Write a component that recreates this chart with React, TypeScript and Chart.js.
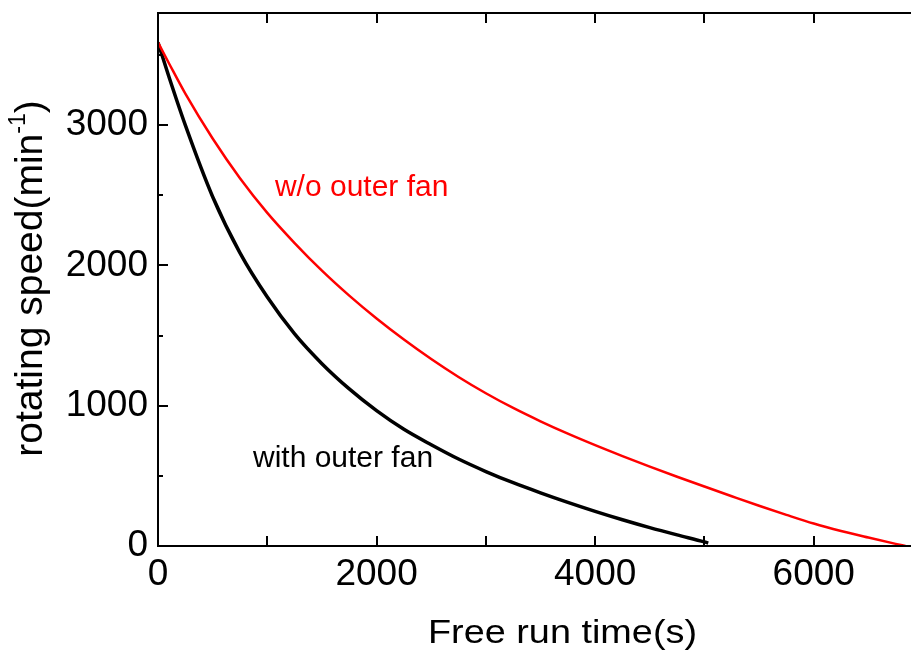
import { useEffect, useRef } from 'react';
import { Chart, registerables } from 'chart.js';

Chart.register(...registerables);

// ---- data ----
const redTime = [0, 100, 250, 500, 750, 1000, 1250, 1500, 1750, 2000, 2250, 2500, 2750, 3000, 3250, 3500, 3750, 4000, 4250, 4500, 4750, 5000, 5250, 5500, 5750, 6000, 6250, 6500, 6750, 6840];
const redSpeed = [3590, 3442, 3225, 2905, 2622, 2375, 2160, 1963, 1785, 1622, 1472, 1333, 1205, 1089, 984, 889, 801, 719, 641, 566, 494, 424, 355, 287, 222, 160, 107, 60, 15, 0];

const blackTime = [0, 100, 250, 500, 750, 1000, 1250, 1500, 1750, 2000, 2250, 2500, 2750, 3000, 3250, 3500, 3750, 4000, 4250, 4500, 4750, 5000, 5035];
const blackSpeed = [3590, 3345, 3000, 2490, 2090, 1775, 1512, 1300, 1120, 965, 832, 722, 620, 531, 451, 379, 311, 247, 187, 131, 79, 29, 21];

const xTickLabels = [0, 2000, 4000, 6000];
const yTickLabels = [0, 1000, 2000, 3000];
const xMinorStep = 1000;
const yMinorStep = 500;

const X_MIN = 0;
const X_MAX = 7000;
const Y_MIN = 0;
const Y_MAX = 3800;

const redLabel = 'w/o outer fan';
const blackLabel = 'with outer fan';
const redLabelPos = [1070, 2493];
const blackLabelPos = [869, 566];

const xTitle = 'Free run time(s)';
const yTitleMain = 'rotating speed(min';
const yTitleSup = '-1';
const yTitleEnd = ')';

const FONT = '"Liberation Sans", Arial, Helvetica, sans-serif';
const RED = '#ff0000';
const BLACK = '#000000';

const framePlugin = {
  id: 'frameAndText',
  afterDatasetsDraw(chart: any) {
    const { ctx, chartArea: a, scales } = chart;
    const xs = scales.x;
    const ys = scales.y;
    ctx.save();
    // frame
    ctx.strokeStyle = BLACK;
    ctx.lineWidth = 2;
    ctx.strokeRect(a.left, a.top, a.right - a.left, a.bottom - a.top);
    // inward ticks
    ctx.beginPath();
    for (let v = X_MIN; v <= X_MAX; v += xMinorStep) {
      const px = Math.round(xs.getPixelForValue(v));
      ctx.moveTo(px, a.bottom);
      ctx.lineTo(px, a.bottom - 10);
      ctx.moveTo(px, a.top);
      ctx.lineTo(px, a.top + 10);
    }
    for (let v = Y_MIN; v <= Y_MAX; v += yMinorStep) {
      const py = Math.round(ys.getPixelForValue(v));
      const len = v % 1000 === 0 ? 10 : 5;
      ctx.moveTo(a.left, py);
      ctx.lineTo(a.left + len, py);
      ctx.moveTo(a.right, py);
      ctx.lineTo(a.right - len - 2, py);
    }
    ctx.stroke();

    // curve labels
    ctx.font = `30px ${FONT}`;
    ctx.textAlign = 'left';
    ctx.textBaseline = 'alphabetic';
    ctx.fillStyle = RED;
    ctx.fillText(redLabel, xs.getPixelForValue(redLabelPos[0]), ys.getPixelForValue(redLabelPos[1]));
    ctx.fillStyle = BLACK;
    ctx.fillText(blackLabel, xs.getPixelForValue(blackLabelPos[0]), ys.getPixelForValue(blackLabelPos[1]));

    // x title (slightly wide lettering as in the reference)
    ctx.font = `33px ${FONT}`;
    const tw = ctx.measureText(xTitle).width;
    const targetW = 269;
    ctx.save();
    ctx.translate(562.5, 642.5);
    ctx.scale(targetW / tw, 1);
    ctx.textAlign = 'center';
    ctx.fillText(xTitle, 0, 0);
    ctx.restore();

    // y title with superscript
    ctx.save();
    ctx.translate(42, 278.5);
    ctx.rotate(-Math.PI / 2);
    ctx.textAlign = 'left';
    ctx.font = `39px ${FONT}`;
    const w1 = ctx.measureText(yTitleMain).width;
    const w3 = ctx.measureText(yTitleEnd).width;
    ctx.font = `23px ${FONT}`;
    const w2 = ctx.measureText(yTitleSup).width;
    const total = w1 + w2 + w3;
    let cx = -total / 2;
    ctx.font = `39px ${FONT}`;
    ctx.fillText(yTitleMain, cx, 0);
    cx += w1;
    ctx.font = `23px ${FONT}`;
    ctx.fillText(yTitleSup, cx, -17);
    cx += w2;
    ctx.font = `39px ${FONT}`;
    ctx.fillText(yTitleEnd, cx, 0);
    ctx.restore();

    ctx.restore();
  },
};

export default function App() {
  const canvasRef = useRef<HTMLCanvasElement | null>(null);

  useEffect(() => {
    const canvas = canvasRef.current;
    if (!canvas) return;
    const chart = new Chart(canvas, {
      type: 'line',
      data: {
        datasets: [
          {
            label: redLabel,
            data: redTime.map((t, i) => ({ x: t, y: redSpeed[i] })),
            borderColor: RED,
            backgroundColor: RED,
            borderWidth: 2.5,
            pointRadius: 0,
            cubicInterpolationMode: 'monotone',
            fill: false,
          },
          {
            label: blackLabel,
            data: blackTime.map((t, i) => ({ x: t, y: blackSpeed[i] })),
            borderColor: BLACK,
            backgroundColor: BLACK,
            borderWidth: 3.5,
            pointRadius: 0,
            cubicInterpolationMode: 'monotone',
            fill: false,
          },
        ],
      },
      options: {
        responsive: false,
        animation: false,
        devicePixelRatio: 1,
        layout: { padding: { top: 13, right: 17, left: 0, bottom: 0 } },
        plugins: {
          legend: { display: false },
          tooltip: { enabled: false },
          title: { display: false },
        },
        scales: {
          x: {
            type: 'linear',
            min: X_MIN,
            max: X_MAX,
            grid: { display: false, drawTicks: false },
            border: { display: false },
            ticks: {
              color: BLACK,
              font: { size: 37, family: FONT },
              padding: 7,
              maxRotation: 0,
              autoSkip: false,
              callback: (v: any) => String(v),
            },
            afterBuildTicks: (s: any) => {
              s.ticks = xTickLabels.map((v) => ({ value: v }));
            },
            afterFit: (s: any) => {
              s.height = 104;
              s.paddingLeft = 0;
              s.paddingRight = 0;
              s.paddingTop = 0;
              s.paddingBottom = 0;
            },
          },
          y: {
            type: 'linear',
            min: Y_MIN,
            max: Y_MAX,
            grid: { display: false, drawTicks: false },
            border: { display: false },
            ticks: {
              color: BLACK,
              font: { size: 37, family: FONT },
              padding: 10,
              autoSkip: false,
              callback: (v: any) => String(v),
            },
            afterBuildTicks: (s: any) => {
              s.ticks = yTickLabels.map((v) => ({ value: v }));
            },
            afterFit: (s: any) => {
              s.width = 158;
              s.paddingLeft = 0;
              s.paddingRight = 0;
              s.paddingTop = 0;
              s.paddingBottom = 0;
            },
          },
        },
      },
      plugins: [framePlugin],
    });
    return () => chart.destroy();
  }, []);

  return (
    <div
      style={{
        position: 'fixed',
        left: 0,
        top: 0,
        width: 911,
        height: 650,
        overflow: 'hidden',
        background: '#ffffff',
      }}
    >
      <canvas ref={canvasRef} width={940} height={650} style={{ display: 'block' }} />
    </div>
  );
}
